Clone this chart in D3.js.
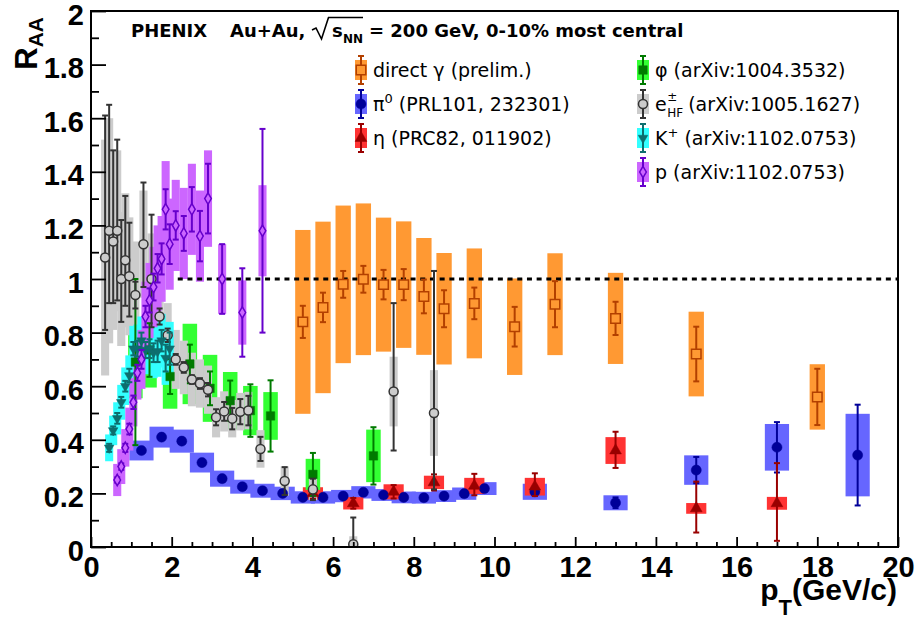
<!DOCTYPE html>
<html>
<head>
<meta charset="utf-8">
<script src="https://d3js.org/d3.v7.min.js"></script>
<style>
 html,body{margin:0;padding:0;background:#fff;}
 svg{display:block;}
 text{white-space:pre;}
</style>
</head>
<body>
<svg id="chart" width="917" height="619"></svg>
<script>
// ---------------- data ----------------
const xTickValues = [0,2,4,6,8,10,12,14,16,18,20];
const yTickValues = [0,0.2,0.4,0.6,0.8,1,1.2,1.4,1.6,1.8,2];
const yTickLabels = ["0","0.2","0.4","0.6","0.8","1","1.2","1.4","1.6","1.8","2"];
const referenceLevel = 1;

// direct photon (prelim.)
const gammaPt   = [5.25,5.75,6.25,6.75,7.25,7.75,8.25,8.75,9.5,10.5,11.5,13,15,18];
const gammaRaa  = [0.84,0.894,0.98,0.999,0.979,0.979,0.935,0.889,0.909,0.822,0.906,0.853,0.72,0.56];
const gammaStat = [0.06,0.055,0.05,0.05,0.055,0.058,0.063,0.069,0.059,0.074,0.086,0.062,0.102,0.105];
const gammaSys  = [0.343,0.32,0.294,0.283,0.25,0.236,0.218,0.208,0.205,0.18,0.19,0.17,0.158,0.122];

// pi0
const pi0Pt   = [1.25,1.75,2.25,2.75,3.25,3.75,4.25,4.75,5.25,5.75,6.25,6.75,7.25,7.75,8.25,8.75,9.25,9.75,11,13,15,17,19];
const pi0Raa  = [0.36,0.41,0.395,0.315,0.255,0.225,0.21,0.2,0.185,0.185,0.19,0.204,0.194,0.185,0.184,0.19,0.199,0.218,0.206,0.165,0.287,0.372,0.343];
const pi0Stat = [0.006,0.006,0.006,0.006,0.006,0.006,0.006,0.006,0.006,0.006,0.007,0.007,0.007,0.008,0.008,0.009,0.01,0.011,0.015,0.02,0.049,0.094,0.188];
const pi0Sys  = [0.037,0.039,0.043,0.037,0.03,0.026,0.026,0.025,0.023,0.023,0.023,0.023,0.022,0.022,0.022,0.022,0.023,0.024,0.03,0.028,0.055,0.087,0.154];

// eta
const etaPt     = [5.5,6.5,7.5,8.5,9.5,11,13,15,17];
const etaRaa    = [0.2,0.163,0.206,0.241,0.228,0.225,0.36,0.144,0.163];
const etaStatUp = [0.02,0.02,0.025,0.03,0.045,0.05,0.07,0.1,0.15];
const etaStatDn = [0.02,0.02,0.025,0.03,0.035,0.035,0.065,0.09,0.14];
const etaSys    = [0.023,0.023,0.028,0.025,0.03,0.033,0.05,0.02,0.024];

// phi
const phiPt   = [1.1,1.45,1.96,2.45,2.95,3.45,3.95,4.45,5.5,7.0];
const phiRaa  = [0.69,0.735,0.636,0.683,0.592,0.546,0.509,0.489,0.271,0.34];
const phiStat = [0.31,0.1,0.065,0.072,0.063,0.075,0.098,0.133,0.08,0.107];
const phiSys  = [0.135,0.14,0.12,0.15,0.125,0.107,0.092,0.089,0.058,0.098];

// heavy-flavour electrons
const ePt     = [0.35,0.45,0.55,0.65,0.75,0.85,0.95,1.1,1.3,1.5,1.7,1.9,2.1,2.3,2.5,2.7,2.9,3.1,3.3,3.5,3.7,3.9,4.2,4.8,5.5,6.5,7.5,8.5];
const eRaa    = [1.08,1.18,1.14,1.18,1.0,1.07,1.01,0.94,1.13,1.0,0.86,0.79,0.70,0.67,0.625,0.61,0.587,0.484,0.506,0.479,0.505,0.509,0.366,0.246,0.215,0.01,0.58,0.50];
const eStatUp = [0.53,0.47,0.34,0.34,0.22,0.24,0.2,0.05,0.23,0.24,0.03,0.025,0.02,0.02,0.016,0.02,0.025,0.03,0.035,0.04,0.047,0.055,0.045,0.052,0.04,0.1,0.33,0.53];
const eStatDn = [0.27,0.27,0.23,0.26,0.16,0.17,0.15,0.05,0.16,0.18,0.03,0.025,0.02,0.02,0.016,0.02,0.025,0.03,0.035,0.04,0.047,0.055,0.045,0.052,0.04,0.01,0.22,0.285];
const eSys    = [0.44,0.42,0.33,0.3,0.25,0.25,0.22,0.2,0.2,0.17,0.14,0.12,0.11,0.1,0.1,0.09,0.09,0.075,0.075,0.07,0.07,0.07,0.07,0.055,0.04,0.03,0.13,0.16];

// K+
const kPt   = [0.45,0.55,0.65,0.75,0.85,0.95,1.05,1.15,1.25,1.35,1.45,1.55,1.65,1.75,1.85,1.95];
const kRaa  = [0.37,0.435,0.48,0.54,0.60,0.64,0.74,0.74,0.77,0.735,0.74,0.725,0.73,0.77,0.705,0.74];
const kStat = [0.015,0.015,0.02,0.02,0.02,0.025,0.025,0.03,0.03,0.03,0.035,0.035,0.04,0.04,0.05,0.06];
const kSys  = [0.05,0.055,0.06,0.065,0.07,0.075,0.085,0.09,0.09,0.09,0.095,0.095,0.095,0.1,0.1,0.1];

// protons
const pPt   = [0.65,0.75,0.85,0.95,1.05,1.15,1.25,1.35,1.45,1.55,1.65,1.75,1.85,1.95,2.1,2.3,2.5,2.7,2.9,3.25,3.75,4.25];
const pRaa  = [0.25,0.30,0.37,0.44,0.54,0.65,0.70,0.86,0.92,0.97,1.04,1.075,1.26,1.13,1.2,1.17,1.26,1.16,1.30,1.0,0.875,1.18];
const pStat = [0.01,0.012,0.015,0.02,0.025,0.03,0.035,0.04,0.045,0.05,0.053,0.058,0.075,0.074,0.053,0.065,0.083,0.094,0.13,0.13,0.165,0.38];
const pSys  = [0.06,0.065,0.07,0.08,0.09,0.1,0.11,0.13,0.14,0.15,0.16,0.16,0.18,0.17,0.17,0.17,0.17,0.17,0.18,0.13,0.12,0.17];

// ---------------- chart ----------------
const svg = d3.select("#chart");
const x = d3.scaleLinear().domain([0,20]).range([91,898]);
const y = d3.scaleLinear().domain([0,2]).range([547,11]);

const series = [
  {pt:gammaPt, v:gammaRaa, su:gammaStat, sd:gammaStat, sys:gammaSys, hw:0.19, box:"#ff9933", col:"#b34000", mk:"osq"},
  {pt:pi0Pt, v:pi0Raa, su:pi0Stat, sd:pi0Stat, sys:pi0Sys, hw:0.3, box:"#6666ff", col:"#000099", mk:"circ"},
  {pt:etaPt, v:etaRaa, su:etaStatUp, sd:etaStatDn, sys:etaSys, hw:0.25, box:"#ff3333", col:"#990000", mk:"tri"},
  {pt:phiPt, v:phiRaa, su:phiStat, sd:phiStat, sys:phiSys, hw:0.18, box:"#33ff33", col:"#007a00", mk:"sq"},
  {pt:ePt, v:eRaa, su:eStatUp, sd:eStatDn, sys:eSys, hw:0.1, box:"#cccccc", col:"#333333", mk:"ocirc"},
  {pt:kPt, v:kRaa, su:kStat, sd:kStat, sys:kSys, hw:0.1, box:"#33ffff", col:"#0d6e6e", mk:"itri"},
  {pt:pPt, v:pRaa, su:pStat, sd:pStat, sys:pSys, hw:0.1, box:"#cc66ff", col:"#6600cc", mk:"odia"}
];

function symbolPath(mk){
  switch(mk){
    case "osq":  return d3.symbol(d3.symbolSquare, 90)();
    case "circ": return d3.symbol(d3.symbolCircle, 80)();
    case "tri":  return d3.symbol(d3.symbolTriangle, 60)();
    case "sq":   return d3.symbol(d3.symbolSquare, 72)();
    case "ocirc":return d3.symbol(d3.symbolCircle, 64)();
    case "itri": return d3.symbol(d3.symbolTriangle, 40)();
    case "odia": return d3.symbol(d3.symbolDiamond, 38)();
  }
}
const hollow = {osq:true, ocirc:true, odia:true};

function drawMarker(g, s, cx, cy){
  g.append("path")
    .attr("d", symbolPath(s.mk))
    .attr("transform", `translate(${cx},${cy})` + (s.mk==="itri" ? " rotate(180)" : ""))
    .attr("fill", hollow[s.mk] ? s.box : s.col)
    .attr("stroke", s.col)
    .attr("stroke-width", hollow[s.mk] ? 1.5 : 0.5);
}
function drawBar(g, col, cx, y1, y2){
  g.append("line").attr("x1",cx).attr("x2",cx).attr("y1",y1).attr("y2",y2)
    .attr("stroke",col).attr("stroke-width",2);
  [y1,y2].forEach(yy=>g.append("line").attr("x1",cx-3).attr("x2",cx+3).attr("y1",yy).attr("y2",yy)
    .attr("stroke",col).attr("stroke-width",2));
}

svg.append("defs").append("clipPath").attr("id","plotclip")
  .append("rect").attr("x",91).attr("y",11).attr("width",807).attr("height",536);

const plot = svg.append("g").attr("clip-path","url(#plotclip)");

// systematic boxes
series.forEach(s=>{
  const g = plot.append("g");
  s.pt.forEach((p,i)=>{
    const top = s.v[i]+s.sys[i], bot = Math.max(0, s.v[i]-s.sys[i]);
    g.append("rect")
      .attr("x", x(p - s.hw)).attr("width", x(p + s.hw) - x(p - s.hw))
      .attr("y", y(top)).attr("height", y(bot) - y(top))
      .attr("fill", s.box);
  });
});

// reference line at R_AA = 1
plot.append("line")
  .attr("x1", x(2.15)).attr("x2", x(20))
  .attr("y1", y(referenceLevel)).attr("y2", y(referenceLevel))
  .attr("stroke","#000").attr("stroke-width",3).attr("stroke-dasharray","5,4.7");

// stat bars + markers
series.forEach(s=>{
  const g = plot.append("g");
  s.pt.forEach((p,i)=>{
    drawBar(g, s.col, x(p), y(s.v[i]+s.su[i]), y(Math.max(0,s.v[i]-s.sd[i])));
  });
  s.pt.forEach((p,i)=>{
    drawMarker(g, s, x(p), y(s.v[i]));
  });
});

// ---------------- axes ----------------
const axisFont = "'Liberation Sans', Arial, Helvetica, sans-serif";
const minorX = d3.range(0, 20.001, 0.5).filter(v => Math.abs(v/2 - Math.round(v/2)) > 1e-6);
const minorY = d3.range(0, 2.0001, 0.1).filter(v => Math.abs(v/0.2 - Math.round(v/0.2)) > 1e-6);

const gx = svg.append("g").attr("transform","translate(0,547)")
  .call(d3.axisBottom(x).tickValues(xTickValues).tickSize(-10).tickPadding(9.5).tickFormat(d3.format("~g")));
svg.append("g").attr("transform","translate(0,547)")
  .call(d3.axisBottom(x).tickValues(minorX).tickSize(-5).tickFormat(""));
const gy = svg.append("g").attr("transform","translate(91,0)")
  .call(d3.axisLeft(y).tickValues(yTickValues).tickSize(-15).tickPadding(7).tickFormat((d,i)=>yTickLabels[i]));
svg.append("g").attr("transform","translate(91,0)")
  .call(d3.axisLeft(y).tickValues(minorY).tickSize(-8).tickFormat(""));

svg.selectAll(".domain").remove();
svg.selectAll(".tick line").attr("stroke","#000").attr("stroke-width",1.8);
svg.selectAll(".tick text").attr("font-family",axisFont).attr("font-weight","bold")
  .attr("font-size",29).attr("fill","#000");
gy.selectAll(".tick text").attr("dy","0.45em");

// frame
svg.append("rect").attr("x",91).attr("y",11).attr("width",807).attr("height",536)
  .attr("fill","none").attr("stroke","#000").attr("stroke-width",2);

// axis titles
const yt = svg.append("text").attr("transform","translate(37,17) rotate(-90)")
  .attr("text-anchor","end").attr("font-family",axisFont).attr("font-weight","bold").attr("font-size",31);
yt.append("tspan").text("R");
yt.append("tspan").attr("dy",6).attr("font-size",21).text("AA");

const xt = svg.append("text").attr("x",897).attr("y",600)
  .attr("text-anchor","end").attr("font-family",axisFont).attr("font-weight","bold").attr("font-size",30);
xt.append("tspan").text("p");
xt.append("tspan").attr("dy",15).attr("font-size",22).text("T");
xt.append("tspan").attr("dy",-15).text("(GeV/c)");

// ---------------- header ----------------
const hFont = "'DejaVu Sans', sans-serif";
function htext(str, xx, yy, size){
  return svg.append("text").attr("x",xx).attr("y",yy).attr("font-family",hFont)
    .attr("font-weight","bold").attr("font-size",size||18).attr("fill","#000").text(str);
}
htext("PHENIX", 131, 37);
htext("Au+Au,", 230, 37);
svg.append("path").attr("d","M312,30 L316,28 L321.5,39 L328.5,17.5 L363,17.5")
  .attr("fill","none").attr("stroke","#000").attr("stroke-width",1.6);
htext("s", 332, 37);
htext("NN", 343, 42.5, 12);
htext("= 200 GeV, 0-10% most central", 369, 37);

// ---------------- legend ----------------
const lFont = "'DejaVu Sans', sans-serif";
const rowCenters = [70,104,138,172];

function legendMarker(s, cx, cy){
  const g = svg.append("g");
  g.append("rect").attr("x",cx-6).attr("y",cy-10).attr("width",12).attr("height",20).attr("fill",s.box);
  drawBar(g, s.col, cx, cy-14, cy+14);
  drawMarker(g, s, cx, cy);
}
function ltext(xx, yy){
  return svg.append("text").attr("x",xx).attr("y",yy).attr("font-family",lFont)
    .attr("font-size",19).attr("fill","#000");
}
// left column
legendMarker(series[0], 361, rowCenters[0]);
ltext(373, rowCenters[0]+7).text("direct γ (prelim.)");
legendMarker(series[1], 361, rowCenters[1]);
{
  const t = ltext(373, rowCenters[1]+7);
  t.append("tspan").text("π");
  t.append("tspan").attr("dy",-8).attr("font-size",13).text("0");
  t.append("tspan").attr("dy",8).text(" (PRL101, 232301)");
}
legendMarker(series[2], 361, rowCenters[2]);
ltext(373, rowCenters[2]+7).text("η (PRC82, 011902)");

// right column
legendMarker(series[3], 643, rowCenters[0]);
ltext(655, rowCenters[0]+7).text("φ (arXiv:1004.3532)");
legendMarker(series[4], 643, rowCenters[1]);
{
  const e = ltext(655, rowCenters[1]+7).text("e");
  const w = e.node().getComputedTextLength();
  ltext(655+w+0.5, rowCenters[1]-3).attr("font-size",12).text("±");
  const hf = ltext(655+w+0.5, rowCenters[1]+13).attr("font-size",12).text("HF");
  const hw = hf.node().getComputedTextLength();
  ltext(655+w+0.5+hw+5, rowCenters[1]+7).text("(arXiv:1005.1627)");
}
legendMarker(series[5], 643, rowCenters[2]);
{
  const t = ltext(655, rowCenters[2]+7);
  t.append("tspan").text("K");
  t.append("tspan").attr("dy",-8).attr("font-size",13).text("+");
  t.append("tspan").attr("dy",8).text(" (arXiv:1102.0753)");
}
legendMarker(series[6], 643, rowCenters[3]);
ltext(655, rowCenters[3]+7).text("p (arXiv:1102.0753)");
</script>
</body>
</html>
